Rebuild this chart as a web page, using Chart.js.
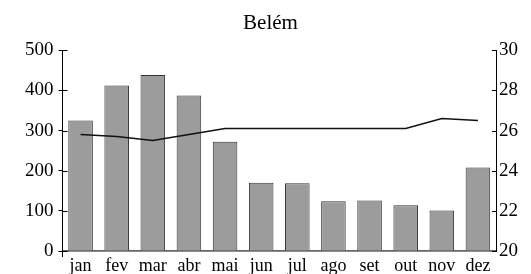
<!DOCTYPE html>
<html>
<head>
<meta charset="utf-8">
<script src="https://cdn.jsdelivr.net/npm/chart.js@4/dist/chart.umd.min.js"></script>
<style>
  html, body { margin: 0; padding: 0; background: #fff; }
  #wrap { width: 531px; height: 274px; }
</style>
</head>
<body>
<div id="wrap"><canvas id="grafico"></canvas></div>
<script>
const meses = ["jan", "fev", "mar", "abr", "mai", "jun", "jul", "ago", "set", "out", "nov", "dez"];
const chuva = [325, 412, 438, 387, 272, 170, 169, 124, 126, 114, 101, 208];
const temperatura = [25.8, 25.7, 25.5, 25.8, 26.1, 26.1, 26.1, 26.1, 26.1, 26.1, 26.6, 26.5];
const ticksChuva = [0, 100, 200, 300, 400, 500];
const ticksTemp = [20, 22, 24, 26, 28, 30];

const fonte = "'Times New Roman', 'Liberation Serif', 'DejaVu Serif', serif";

// marcas dos eixos para dentro da area do grafico
const marcasInternas = {
    id: "marcasInternas",
    afterDraw(chart) {
        const ctx = chart.ctx;
        const area = chart.chartArea;
        const esq = chart.scales.y;
        const dir = chart.scales.y1;
        ctx.save();
        ctx.strokeStyle = "#000";
        ctx.lineWidth = 1;
        ctx.beginPath();
        ticksChuva.forEach(v => {
            const y = Math.round(esq.getPixelForValue(v)) + 0.5;
            ctx.moveTo(area.left, y);
            ctx.lineTo(area.left + 5, y);
        });
        ticksTemp.forEach(v => {
            const y = Math.round(dir.getPixelForValue(v)) + 0.5;
            ctx.moveTo(area.right - 4, y);
            ctx.lineTo(area.right, y);
        });
        // eixo esquerdo continua um pouco abaixo da base
        ctx.moveTo(area.left, area.bottom);
        ctx.lineTo(area.left, area.bottom + 6);
        ctx.stroke();
        ctx.restore();
    }
};

new Chart(document.getElementById("grafico"), {
    data: {
        labels: meses,
        datasets: [
            {
                type: "line",
                label: "Temperatura",
                data: temperatura,
                yAxisID: "y1",
                borderColor: "#111",
                borderWidth: 1.6,
                pointRadius: 0,
                tension: 0,
                order: 0
            },
            {
                type: "bar",
                label: "Chuva",
                data: chuva,
                yAxisID: "y",
                backgroundColor: "#9c9c9c",
                borderColor: "#333",
                borderWidth: 1,
                barPercentage: 0.68,
                categoryPercentage: 1,
                order: 1
            }
        ]
    },
    options: {
        responsive: true,
        maintainAspectRatio: false,
        animation: false,
        layout: { padding: { left: 20, right: 10, top: 0, bottom: -7 } },
        plugins: {
            legend: { display: false },
            tooltip: { enabled: false },
            title: {
                display: true,
                text: "Belém",
                color: "#000",
                font: { family: fonte, size: 21, weight: "normal" },
                padding: { top: 11, bottom: 14 }
            }
        },
        scales: {
            x: {
                grid: { display: false, drawTicks: false },
                border: { color: "#666", width: 1.8 },
                ticks: {
                    color: "#000",
                    padding: 6,
                    maxRotation: 0,
                    autoSkip: false,
                    font: { family: fonte, size: 18, lineHeight: 1 }
                }
            },
            y: {
                position: "left",
                min: 0,
                max: 500,
                afterBuildTicks: s => { s.ticks = ticksChuva.map(v => ({ value: v })); },
                grid: { drawOnChartArea: false, drawTicks: true, tickLength: 4, color: "#000" },
                border: { color: "#000", width: 1 },
                ticks: {
                    color: "#000",
                    padding: 5,
                    font: { family: fonte, size: 19 }
                }
            },
            y1: {
                position: "right",
                min: 20,
                max: 30,
                afterBuildTicks: s => { s.ticks = ticksTemp.map(v => ({ value: v })); },
                grid: { drawOnChartArea: false, drawTicks: false },
                border: { color: "#000", width: 1 },
                ticks: {
                    color: "#000",
                    padding: 3,
                    font: { family: fonte, size: 19 }
                }
            }
        }
    },
    plugins: [marcasInternas]
});
</script>
</body>
</html>
